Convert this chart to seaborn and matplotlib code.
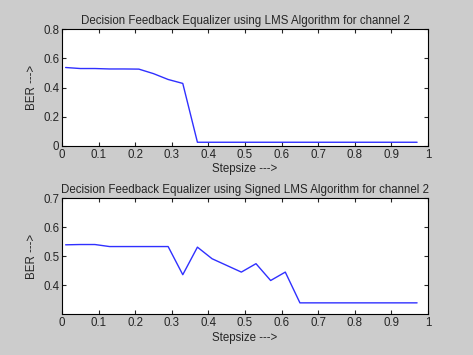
import numpy as np
import pandas as pd
import matplotlib
matplotlib.use('Agg')
import matplotlib.pyplot as plt
import seaborn as sns

# step sizes 0.01:0.04:0.97
stepsize = [0.01, 0.05, 0.09, 0.13, 0.17, 0.21, 0.25, 0.29, 0.33, 0.37, 0.41, 0.45, 0.49,
            0.53, 0.57, 0.61, 0.65, 0.69, 0.73, 0.77, 0.81, 0.85, 0.89, 0.93, 0.97]
ber_lms = [0.537, 0.530, 0.530, 0.527, 0.527, 0.526, 0.495, 0.455, 0.428, 0.025, 0.025, 0.025, 0.025,
           0.025, 0.025, 0.025, 0.025, 0.025, 0.025, 0.025, 0.025, 0.025, 0.025, 0.025, 0.025]
ber_signed = [0.539, 0.540, 0.540, 0.533, 0.533, 0.533, 0.533, 0.533, 0.436, 0.531, 0.491, 0.468, 0.445,
              0.474, 0.416, 0.445, 0.339, 0.339, 0.339, 0.339, 0.339, 0.339, 0.339, 0.339, 0.339]

x_ticks = [0, 0.1, 0.2, 0.3, 0.4, 0.5, 0.6, 0.7, 0.8, 0.9, 1]
x_labels = ['0', '0.1', '0.2', '0.3', '0.4', '0.5', '0.6', '0.7', '0.8', '0.9', '1']
y_ticks_top = [0, 0.2, 0.4, 0.6, 0.8]
y_labels_top = ['0', '0.2', '0.4', '0.6', '0.8']
y_ticks_bot = [0.4, 0.5, 0.6, 0.7]
y_labels_bot = ['0.4', '0.5', '0.6', '0.7']

titles = ['Decision Feedback Equalizer using LMS Algorithm for channel 2',
          'Decision Feedback Equalizer using Signed LMS Algorithm for channel 2']

sns.set_style('ticks')
plt.rcParams['font.family'] = ['Liberation Sans', 'DejaVu Sans']
plt.rcParams['font.size'] = 8.3

df = pd.DataFrame({'step': stepsize, 'lms': ber_lms, 'signed': ber_signed})

fig = plt.figure(figsize=(4.73, 3.55), dpi=100, facecolor='#cccccc')
ax1 = fig.add_axes([0.131, 0.589, 0.774, 0.329])
ax2 = fig.add_axes([0.131, 0.115, 0.774, 0.327])

panels = [(ax1, 'lms', (0, 0.8), y_ticks_top, y_labels_top, titles[0]),
          (ax2, 'signed', (0.3, 0.7), y_ticks_bot, y_labels_bot, titles[1])]

for ax, col, ylim, yt, yl, title in panels:
    sns.lineplot(data=df, x='step', y=col, ax=ax, color='#3030ff', linewidth=1)
    ax.set_facecolor('white')
    ax.set_xlim(0, 1)
    ax.set_ylim(*ylim)
    ax.set_xticks(x_ticks)
    ax.set_xticklabels(x_labels)
    ax.set_yticks(yt)
    ax.set_yticklabels(yl)
    ax.tick_params(direction='in', top=True, right=True, length=3, width=0.8,
                   labelsize=8.3, pad=2)
    for s in ax.spines.values():
        s.set_visible(True)
        s.set_linewidth(0.8)
        s.set_color('black')
    ax.set_title(title, fontsize=8.3, pad=4)
    ax.set_xlabel('Stepsize --->', fontsize=8.3, labelpad=2)
    ax.set_ylabel('BER --->', fontsize=8.3, labelpad=4)

plt.savefig('out.png', dpi=100, facecolor=fig.get_facecolor())
plt.close()
